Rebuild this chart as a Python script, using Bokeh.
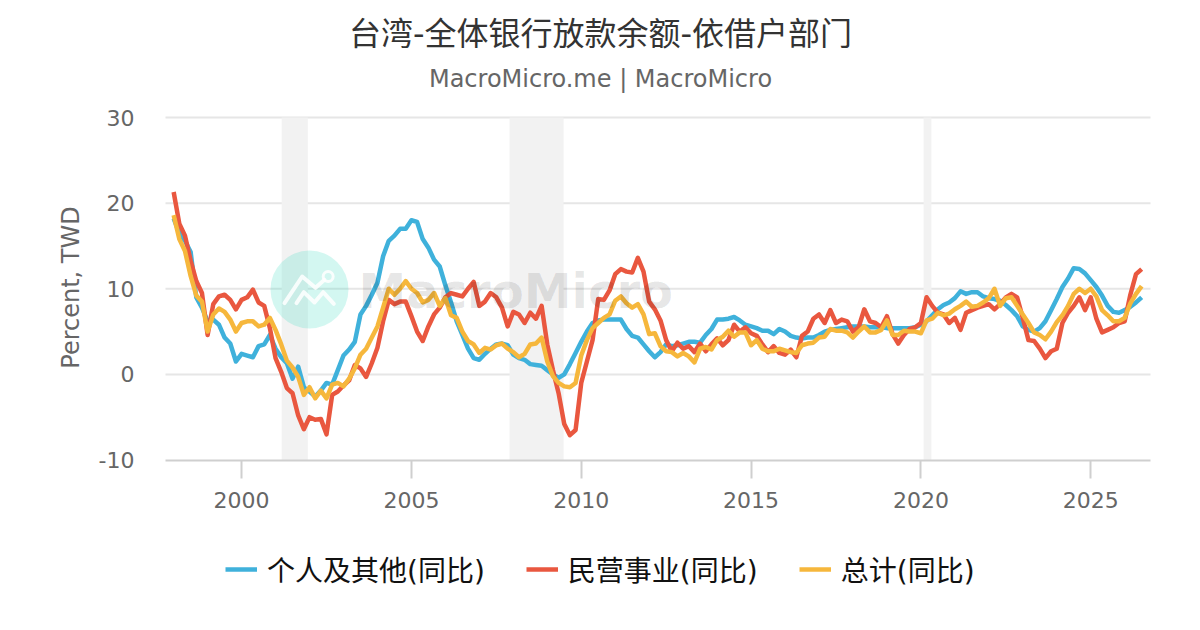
import numpy as np
from bokeh.plotting import figure
from bokeh.models import (BoxAnnotation, Label, Legend, LegendItem, FixedTicker, Range1d)
from bokeh.embed import file_html
from bokeh.resources import INLINE

TITLE = "台湾-全体银行放款余额-依借户部门"
SUBTITLE = "MacroMicro.me | MacroMicro"
Y_LABEL = "Percent, TWD"
SERIES_NAMES = ["个人及其他(同比)", "民营事业(同比)", "总计(同比)"]
SERIES_COLORS = ["#3fb1db", "#e9573f", "#f6b73c"]
X_TICKS = [2000, 2005, 2010, 2015, 2020, 2025]
Y_TICKS = [-10, 0, 10, 20, 30]
RECESSIONS = [(2001.18, 2001.95), (2007.89, 2009.48), (2020.08, 2020.31)]

personal = [18.2,16.5,15.6,14.3,9.0,7.8,6.2,6.4,5.8,4.3,3.6,1.5,2.4,2.2,2.0,3.3,3.5,4.6,3.0,2.0,1.3,-0.5,0.9,-1.5,
 -2.0,-2.6,-1.9,-1.0,-1.2,0.5,2.2,2.9,3.8,7.0,8.0,9.3,10.7,13.8,15.6,16.2,17.0,17.0,18.0,17.8,15.8,14.8,13.4,12.6,
 10.4,8.4,6.2,4.6,3.0,1.9,1.7,2.4,3.0,3.5,3.6,3.4,2.3,1.9,1.7,1.2,1.1,1.0,0.5,0.0,-0.4,0.0,1.2,2.5,
 3.8,5.0,6.0,6.3,6.4,6.4,6.4,6.4,5.3,4.5,4.3,3.5,2.7,2.0,2.6,3.5,3.3,3.4,3.6,3.8,3.8,3.7,4.6,5.3,
 6.4,6.4,6.5,6.7,6.3,5.8,5.6,5.4,5.1,5.1,4.7,5.3,5.0,4.5,4.3,4.2,4.3,4.3,4.6,5.0,5.2,5.3,5.4,5.5,
 5.6,5.6,5.6,5.5,5.5,5.5,5.4,5.4,5.4,5.4,5.4,5.5,5.8,6.2,6.9,7.6,8.1,8.4,8.9,9.7,9.4,9.6,9.6,9.1,
 8.9,8.8,8.6,8.1,7.5,6.8,5.6,5.2,5.0,5.4,6.2,7.5,8.8,10.2,11.2,12.4,12.3,11.8,11.0,10.2,9.2,8.0,7.3,7.2,
 7.5,7.9,8.4,9.0]
business = [21.3,17.6,16.2,13.3,10.9,9.5,4.6,8.2,9.1,9.3,8.7,7.6,8.7,9.0,9.9,8.4,8.0,5.4,1.9,0.3,-1.6,-2.2,-4.8,-6.4,
 -5.0,-5.3,-5.2,-7.0,-2.4,-2.0,-1.3,-0.7,1.1,0.7,-0.3,1.3,3.1,6.2,8.7,8.2,8.5,8.5,6.8,5.0,3.9,5.6,7.0,7.8,
 9.0,9.5,9.3,9.1,10.0,10.8,8.0,8.5,9.5,9.0,7.8,5.6,7.3,7.0,6.0,7.2,6.5,8.0,3.5,0.5,-2.2,-5.8,-7.1,-6.5,
 -1.0,1.5,4.0,8.8,8.7,9.8,11.7,12.3,12.0,11.9,13.6,12.0,8.5,7.6,6.3,4.0,2.7,3.7,3.0,3.3,2.6,3.6,2.7,3.5,
 4.2,3.4,4.0,5.8,5.0,5.5,4.8,4.5,3.5,2.6,3.3,2.5,2.3,2.9,2.0,4.5,5.0,6.5,7.0,6.0,7.5,6.0,6.4,6.2,
 5.0,5.5,7.6,6.2,6.0,5.5,6.8,4.7,3.6,4.6,5.3,5.5,6.0,9.0,8.0,7.2,7.0,6.0,6.6,5.2,7.2,7.5,7.8,8.0,
 8.2,7.6,8.2,9.0,9.4,9.0,6.6,4.0,3.9,3.0,1.9,2.7,3.0,6.0,7.2,8.0,9.0,7.5,9.0,6.5,4.9,5.2,5.5,6.0,
 6.2,9.3,11.7,12.3]
total = [18.6,15.8,14.4,11.5,9.2,8.5,5.0,7.0,7.7,7.3,6.4,5.0,6.0,6.2,6.2,5.6,5.8,6.6,5.2,3.5,1.6,0.8,-0.3,-2.4,
 -1.5,-2.8,-1.9,-2.8,-1.2,-1.0,-1.4,-0.5,0.7,2.3,3.0,4.3,5.6,7.8,10.0,9.3,10.0,10.9,10.0,9.5,8.4,8.7,9.5,8.0,
 8.9,6.9,6.6,5.0,3.9,3.5,2.5,3.1,2.9,3.4,3.6,3.0,2.6,2.0,2.4,3.5,3.6,4.3,1.5,-0.2,-1.0,-1.4,-1.5,-1.0,
 2.2,4.0,5.4,6.0,6.6,7.0,8.6,9.1,8.3,7.8,8.2,7.0,4.7,4.8,3.3,2.7,2.6,2.1,2.5,2.1,1.4,3.0,3.2,2.9,
 4.0,4.4,5.1,4.4,4.9,4.9,3.4,4.0,3.0,2.7,2.7,3.0,2.8,2.6,2.5,3.4,3.6,3.7,4.3,4.4,5.3,5.1,5.1,4.9,
 4.3,5.0,5.6,4.9,4.9,5.2,6.3,4.6,4.6,5.1,5.0,5.0,4.8,6.3,6.5,7.2,6.9,7.1,7.6,8.0,8.5,7.9,8.0,8.4,
 8.9,10.0,8.0,8.9,9.0,8.0,7.0,6.0,4.9,4.6,4.1,5.0,6.1,6.9,8.0,9.4,10.0,9.5,10.0,9.1,7.5,6.9,6.2,6.2,
 6.6,8.3,9.4,10.3]

years = 1998 + np.arange(len(total)) / 6

FONT = "DejaVu Sans, Noto Sans CJK SC"
W, H = 1200, 630
PX_LEFT, PX_RIGHT, PX_TOP, PX_BOTTOM = 165, 1150, 117, 459.5
X_MIN, X_MAX, Y_MIN, Y_MAX = 1997.76, 2026.76, -10, 30
SX = (PX_RIGHT - PX_LEFT) / (X_MAX - X_MIN)
SY = (PX_BOTTOM - PX_TOP) / (Y_MAX - Y_MIN)

def yr(px):
    return X_MIN + (px - PX_LEFT) / SX
def val(py):
    return Y_MAX - (py - PX_TOP) / SY

# the frame covers the whole page, so that nothing outside the plot area gets clipped
p = figure(width=W, height=H, output_backend="svg", toolbar_location=None,
           min_border=0, x_range=Range1d(yr(0), yr(W)), y_range=Range1d(val(H), val(0)))
p.outline_line_color = None
p.background_fill_color = "#ffffff"

for a, b in RECESSIONS:
    p.add_layout(BoxAnnotation(left=a, right=b, top=Y_MAX, bottom=Y_MIN, fill_color="#f2f2f2", fill_alpha=1,
                               line_color=None, level="underlay"))

# grid lines, limited to the plot area
p.xgrid.visible = False
p.ygrid.visible = False
grid_ticks = [t for t in Y_TICKS if t != Y_MIN]
p.segment([X_MIN] * len(grid_ticks), grid_ticks, [X_MAX] * len(grid_ticks), grid_ticks,
          line_color="#e6e6e6", line_width=2, level="underlay")

p.xaxis.fixed_location = Y_MIN
p.yaxis.fixed_location = X_MIN
p.xaxis.bounds = (X_MIN, X_MAX)
p.yaxis.bounds = (Y_MIN, Y_MAX)
p.xaxis.ticker = FixedTicker(ticks=X_TICKS)
p.yaxis.ticker = FixedTicker(ticks=Y_TICKS)
p.yaxis.major_label_overrides = {t: str(t) for t in Y_TICKS}
p.xaxis.axis_line_color = "#cfcfcf"
p.xaxis.axis_line_width = 2
p.xaxis.major_tick_line_color = "#cfcfcf"
p.xaxis.major_tick_line_width = 2
p.xaxis.major_tick_in = 0
p.xaxis.major_tick_out = 18
p.xaxis.minor_tick_line_color = None
p.xaxis.major_label_text_font = FONT
p.xaxis.major_label_text_font_size = "22px"
p.xaxis.major_label_text_color = "#666666"
p.xaxis.major_label_standoff = 14
p.yaxis.axis_line_color = None
p.yaxis.major_tick_line_color = None
p.yaxis.minor_tick_line_color = None
p.yaxis.major_label_text_font = FONT
p.yaxis.major_label_text_font_size = "22px"
p.yaxis.major_label_text_color = "#666666"
p.yaxis.major_label_standoff = 25

def wm(points, width=4):
    xs = [yr(160 + a / 3) for a, _ in points]
    ys = [val(170 + b / 3) for _, b in points]
    p.line(xs, ys, line_color="#ffffff", line_width=width, line_alpha=0.85, line_cap="round", line_join="round")

p.scatter([yr(309)], [val(289)], size=78, marker="circle", fill_color="#35d9bf", fill_alpha=0.22, line_color=None)
wm([(372, 398), (425, 318), (465, 352), (492, 328)])
wm([(408, 398), (430, 365), (462, 396), (488, 365), (520, 400)])
p.scatter([yr(160 + 503 / 3)], [val(170 + 318 / 3)], size=10, marker="circle", fill_color=None, line_color="#ffffff", line_width=3, line_alpha=0.85)

def screen_label(px, py, text, **kw):
    p.add_layout(Label(x=px, y=H - py, x_units="screen", y_units="screen", text=text,
                       text_baseline="middle", **kw))

screen_label(358, 290, "MacroMicro", text_font="DejaVu Sans", text_font_style="bold", text_font_size="48px",
             text_color="#000000", text_alpha=0.10, text_align="left")

items = []
for name, col, vals in zip(SERIES_NAMES, SERIES_COLORS, [personal, business, total]):
    r = p.line(years, vals, line_color=col, line_width=4.5, line_join="round")
    items.append(LegendItem(label=name, renderers=[r]))

legend = Legend(items=items, orientation="horizontal", location=(225, 41),
                label_text_font=FONT, label_text_font_size="28px", label_text_color="#111111",
                glyph_width=32, glyph_height=24, spacing=41, label_standoff=10,
                border_line_color=None, background_fill_alpha=0, margin=0, padding=8)
p.add_layout(legend, "center")

screen_label(600, 33, TITLE, text_align="center", text_font=FONT, text_font_size="32px", text_color="#333333")
screen_label(600, 78, SUBTITLE, text_align="center", text_font=FONT, text_font_size="24px", text_color="#666666")
screen_label(70, 287, Y_LABEL, text_align="center", angle=np.pi / 2, text_font=FONT, text_font_size="24px", text_color="#666666")

open("out.html", "w").write(file_html(p, INLINE))
